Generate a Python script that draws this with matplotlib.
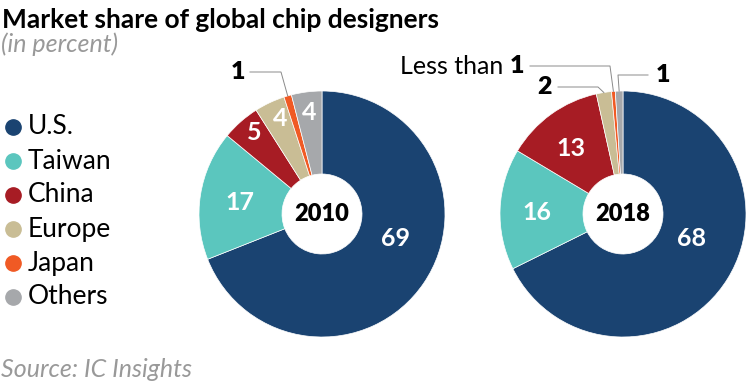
import numpy as np
import matplotlib.pyplot as plt

plt.rcParams['font.family'] = ['Lato', 'DejaVu Sans']

regions = ['U.S.', 'Taiwan', 'China', 'Europe', 'Japan', 'Others']
colors = ['#1a4371', '#5bc6be', '#a71c24', '#c9bd95', '#f05a24', '#a6a8ab']
share_2010 = [69, 17, 5, 4, 1, 4]
share_2018 = [68, 16, 13, 2, 0.5, 1]

W, H = 748, 388
R = 123      # outer radius, px
R_IN = 40    # hole radius, px

fig = plt.figure(figsize=(W / 100, H / 100), dpi=100)


def donut(cx, cy, vals, year):
    ax = fig.add_axes([(cx - R) / W, (H - cy - R) / H, 2 * R / W, 2 * R / H])
    ax.pie(vals, colors=colors, startangle=90, counterclock=False, radius=1,
           wedgeprops=dict(width=1 - R_IN / R, edgecolor='white', linewidth=0.5))
    ax.set_xlim(-1, 1)
    ax.set_ylim(-1, 1)
    ax.set_aspect('equal')
    ax.axis('off')
    ax.text(0, 0, year, ha='center', va='center', fontsize=17,
            fontweight='heavy', color='black')
    return ax


def mid_point(vals, i):
    # point on outer edge at the middle of slice i
    tot = sum(vals)
    a0 = 90 - 360 * sum(vals[:i]) / tot
    a = np.radians(a0 - 360 * vals[i] / tot / 2)
    return np.cos(a), np.sin(a)


def px(dx, dy):
    return dx / R, dy / R


def inside(ax, dx, dy, s):
    x, y = px(dx, dy)
    ax.text(x, y, s, ha='center', va='center', color='white',
            fontsize=18, fontweight='bold')


def leader(ax, pts, vals, i):
    xs = [px(*p)[0] for p in pts]
    ys = [px(*p)[1] for p in pts]
    mx, my = mid_point(vals, i)
    ax.plot(xs + [mx], ys + [my], color='#8a8a8a', lw=0.7, clip_on=False)


# 2010
ax1 = donut(322, 214, share_2010, '2010')
inside(ax1, 73, -25, '69')
inside(ax1, -82, 11, '17')
inside(ax1, -68, 81, '5')
inside(ax1, -42, 96, '4')
inside(ax1, -13, 101, '4')
leader(ax1, [(-72, 142), (-41, 142)], share_2010, 4)
ax1.text(*px(-84, 142), '1', ha='center', va='center', fontsize=18,
         fontweight='heavy')

# 2018
ax2 = donut(623, 214, share_2018, '2018')
inside(ax2, 69, -25, '68')
inside(ax2, -86, 1, '16')
inside(ax2, -52, 66, '13')
leader(ax2, [(-93, 148), (-13, 148)], share_2018, 4)
ax2.text(*px(-120, 148), 'Less than', ha='right', va='center', fontsize=18)
ax2.text(*px(-106, 148), '1', ha='center', va='center', fontsize=18,
         fontweight='heavy')
leader(ax2, [(-65, 127), (-25, 127)], share_2018, 3)
ax2.text(*px(-78, 127), '2', ha='center', va='center', fontsize=18,
         fontweight='heavy')
leader(ax2, [(25, 139), (-5, 139)], share_2018, 5)
ax2.text(*px(40, 139), '1', ha='center', va='center', fontsize=18,
         fontweight='heavy')

# title, subtitle, source
fig.text(2 / W, 1 - 28 / H, 'Market share of global chip designers',
         fontsize=19, fontweight='bold', va='baseline', ha='left')
fig.text(1 / W, 1 - 52 / H, '(in percent)', fontsize=18, style='italic',
         color='#999999', va='baseline', ha='left')
fig.text(1 / W, 1 - 377 / H, 'Source: IC Insights', fontsize=18, style='italic',
         color='#999999', va='baseline', ha='left')

# legend
for k, (name, c) in enumerate(zip(regions, colors)):
    y = 1 - (127 + 34 * k) / H
    fig.lines.append(plt.Line2D([13 / W], [y], marker='o', markersize=11,
                                color=c, transform=fig.transFigure))
    fig.text(28 / W, y, name, fontsize=19, va='center', ha='left')

fig.savefig('out.png', dpi=100)
